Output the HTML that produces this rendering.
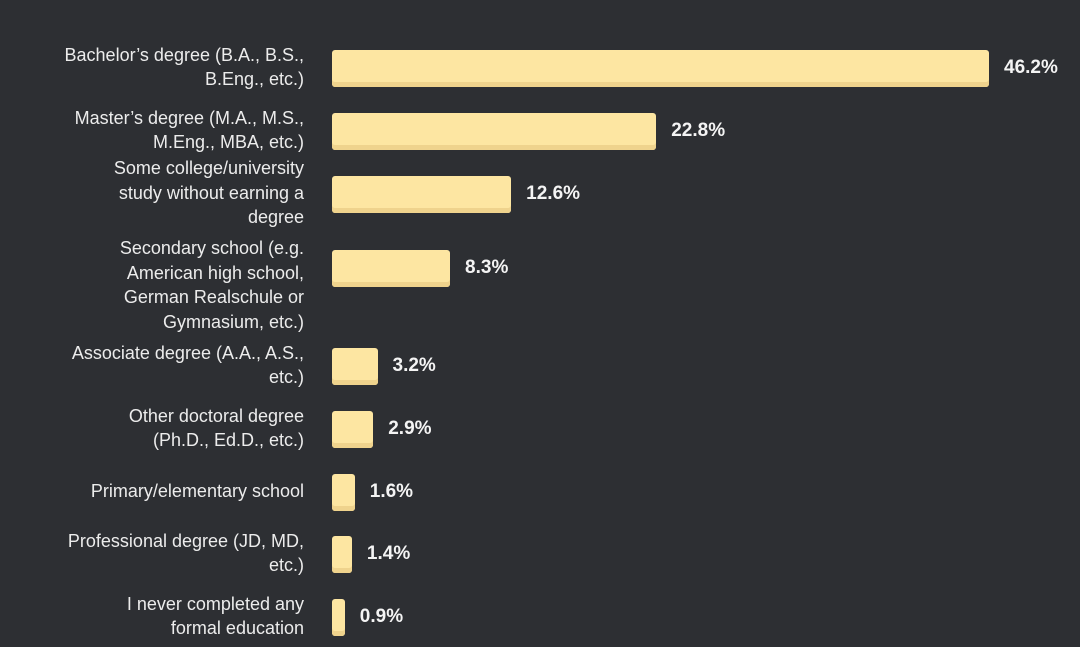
<!DOCTYPE html>
<html><head><meta charset="utf-8"><style>
html,body{margin:0;padding:0;background:#2d2f33;}
#chart{position:relative;width:1080px;height:647px;overflow:hidden;background:#2d2f33;font-family:"Liberation Sans",sans-serif;}
.lbl{position:absolute;right:776px;text-align:right;color:#ececec;font-size:18px;line-height:24.5px;white-space:nowrap;}
.bar{position:absolute;left:332px;height:37px;border-radius:3px;background:#fde6a2;box-shadow:inset 0 -5px 0 #efd38d;}
.val{position:absolute;color:#f4f4f4;font-weight:bold;font-size:19px;line-height:24px;}
</style></head><body>
<div id="chart"></div>
<script>
const categories = [
 ["Bachelor’s degree (B.A., B.S.,","B.Eng., etc.)"],
 ["Master’s degree (M.A., M.S.,","M.Eng., MBA, etc.)"],
 ["Some college/university","study without earning a","degree"],
 ["Secondary school (e.g.","American high school,","German Realschule or","Gymnasium, etc.)"],
 ["Associate degree (A.A., A.S.,","etc.)"],
 ["Other doctoral degree","(Ph.D., Ed.D., etc.)"],
 ["Primary/elementary school"],
 ["Professional degree (JD, MD,","etc.)"],
 ["I never completed any","formal education"]
];
const values = [46.2, 22.8, 12.6, 8.3, 3.2, 2.9, 1.6, 1.4, 0.9];
const valueLabels = ["46.2%","22.8%","12.6%","8.3%","3.2%","2.9%","1.6%","1.4%","0.9%"];

const chart = document.getElementById('chart');
const x0 = 332, pxPerUnit = 657/46.2;
function xScale(v){ return v*pxPerUnit; }
const rowCenters = [68,131,194,268,366,429,492,554,617];
const labelOffsets = [0,0,0,18,0,0,0,0,0];
function slug(s){return s.toLowerCase().replace(/[^a-z0-9]+/g,'-').replace(/^-|-$/g,'').slice(0,30);}
categories.forEach((lines,i)=>{
  const cy = rowCenters[i];
  const lab = document.createElement('div');
  lab.className='lbl';
  lab.innerHTML = lines.join('<br>');
  const h = lines.length*24.5;
  lab.style.top = (cy + labelOffsets[i] - h/2 - 1) + 'px';
  
  
  chart.appendChild(lab);
  const w = Math.max(xScale(values[i]), 6);
  const bar = document.createElement('div');
  bar.className='bar';
  bar.style.top=(cy-18.5)+'px';
  bar.style.width=w+'px';
  
  
  chart.appendChild(bar);
  const v = document.createElement('div');
  v.className='val';
  v.textContent=valueLabels[i];
  v.style.left=(x0+w+15)+'px';
  v.style.top=(cy-12)+'px';
  
  
  chart.appendChild(v);
});
</script>
</body></html>
